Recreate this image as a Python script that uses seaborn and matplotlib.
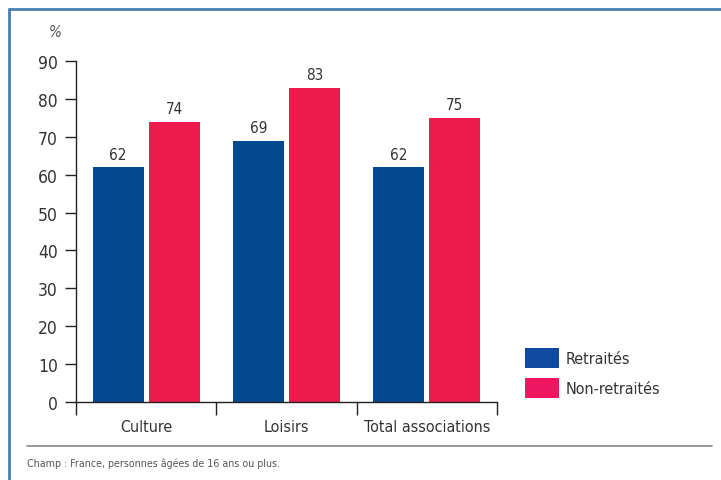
import matplotlib
matplotlib.use("Agg")
import matplotlib.pyplot as plt
from matplotlib.lines import Line2D
from matplotlib.patches import Patch
from matplotlib import font_manager
import numpy as np
import pandas as pd
import seaborn as sns

# Data
categories = ["Culture", "Loisirs", "Total associations"]
retraites = [62, 69, 62]
non_retraites = [74, 83, 75]
series = ["Retraités", "Non-retraités"]
y_ticks = [0, 10, 20, 30, 40, 50, 60, 70, 80, 90]
note = "Champ : France, personnes âgées de 16 ans ou plus."

df = pd.DataFrame({
    "categorie": categories * 2,
    "serie": [series[0]] * 3 + [series[1]] * 3,
    "valeur": retraites + non_retraites,
})

sns.set_style("white")
available = {f.name for f in font_manager.fontManager.ttflist}
narrow = [n for n in ("Liberation Sans Narrow", "DejaVu Sans Condensed") if n in available]
plt.rcParams["font.family"] = narrow + ["DejaVu Sans"]
plt.rcParams["font.stretch"] = "condensed"

BLUE = "#004A8D"
PINK = "#EE1A4B"
TEXT = "#333333"

fig = plt.figure(figsize=(7.21, 4.81), dpi=100)
ax = fig.add_axes([76 / 721, 1 - 403 / 481, 421 / 721, 341 / 481])

sns.barplot(data=df, x="categorie", y="valeur", hue="serie",
            palette=[BLUE, PINK], width=0.8, gap=0.09, ax=ax,
            legend=False, errorbar=None, saturation=1, linewidth=0)

for cont in ax.containers:
    ax.bar_label(cont, labels=[f"{v:g}" for v in cont.datavalues],
                 padding=4, fontsize=11, color=TEXT)

ax.set_xlim(-0.5, 2.5)
ax.set_ylim(0, 90)
ax.set_yticks(y_ticks)
ax.set_xlabel("")
ax.set_ylabel("")

for side in ("top", "right"):
    ax.spines[side].set_visible(False)
for side in ("left", "bottom"):
    ax.spines[side].set_color("#222222")
    ax.spines[side].set_linewidth(1.0)

ax.tick_params(axis="y", length=8, width=1, color="#222222",
               labelsize=12.5, labelcolor=TEXT, pad=5, left=True)
ax.set_xticks([0, 1, 2])
ax.set_xticklabels(categories)
ax.tick_params(axis="x", which="major", length=0, labelsize=11.5,
               labelcolor=TEXT, pad=12)
ax.set_xticks([-0.5, 0.5, 1.5, 2.5], minor=True)
ax.tick_params(axis="x", which="minor", length=9, width=1,
               color="#222222", bottom=True)

fig.text(55 / 721, 1 - 33 / 481, "%", fontsize=11, style="italic",
         color="#555555", ha="center", va="center")

handles = [Patch(facecolor="#0F4AA0", edgecolor="none"),
           Patch(facecolor="#EE1660", edgecolor="none")]
fig.legend(handles, series, loc="upper left",
           bbox_to_anchor=(511 / 721, 1 - 335 / 481), frameon=False,
           fontsize=11.5, handlelength=2.1, handleheight=1.5,
           labelspacing=0.65, handletextpad=0.45, labelcolor=TEXT)

# Frame and separator
fig.add_artist(Line2D([9 / 721, 1], [1 - 10 / 481, 1 - 10 / 481],
                      transform=fig.transFigure, color="#4A7EB3", lw=2))
fig.add_artist(Line2D([9 / 721, 9 / 721], [0, 1 - 10 / 481],
                      transform=fig.transFigure, color="#4A7EB3", lw=2))
fig.add_artist(Line2D([27 / 721, 712 / 721], [1 - 447 / 481, 1 - 447 / 481],
                      transform=fig.transFigure, color="#888888", lw=1.2))
fig.text(27 / 721, 1 - 464 / 481, note, fontsize=7.7, color="#555555",
         ha="left", va="center")

fig.savefig("out.png", dpi=100)
